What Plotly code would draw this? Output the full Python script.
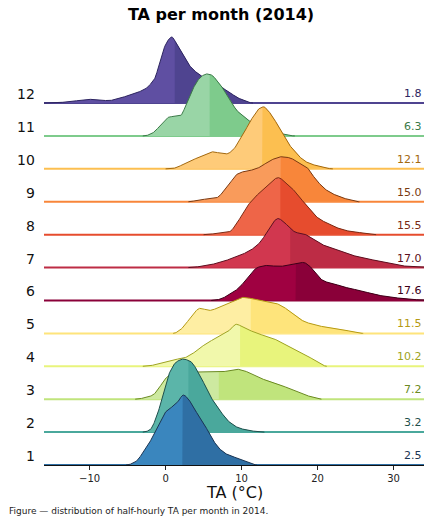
import numpy as np
import plotly.graph_objects as go

# ---- data (density in arbitrary units) ----
months = [1, 2, 3, 4, 5, 6, 7, 8, 9, 10, 11, 12]
month_labels = ["1", "2", "3", "4", "5", "6", "7", "8", "9", "10", "11", "12"]
median_labels = ["2.5", "3.2", "7.2", "10.2", "11.5", "17.6", "17.0", "15.5", "15.0", "12.1", "6.3", "1.8"]
split_x = [2.2, 3.0, 7.0, 9.8, 11.2, 17.1, 16.4, 15.1, 15.1, 12.7, 5.8, 1.2]

m1_x = [-5.2, -4, -3, -2, -1, 0, 1, 1.7, 2.3, 3, 3.6, 4.3, 5, 6, 7, 8, 9, 10, 11, 12]
m1_d = [0, 3, 12, 24, 40, 53, 59, 64, 70, 66, 58, 50, 42, 28, 17, 11, 8, 5, 2, 0]
m2_x = [-3, -2.1, -1.2, -0.3, 0.5, 1.4, 2.3, 3.2, 4.5, 5.8, 7.1, 8.4, 9.7, 11.5, 13]
m2_d = [0, 2, 15, 39, 59, 70, 73, 71, 57, 37, 22, 10, 4, 1, 0]
m3_x = [-4, -3.4, -1.7, -0.8, -0.1, 1, 2.5, 4, 5.8, 7.1, 8, 9.3, 10.5, 11.5, 12.8, 14.1, 15.5, 16.8, 18, 19.4, 20.5]
m3_d = [0, 0.5, 4, 12, 20, 26, 27, 27, 27, 27, 28, 30, 28, 24, 20, 17, 13, 9, 5, 2, 0]
m4_x = [-3, -2.1, -0.4, 1.4, 2.3, 3.6, 5.4, 7.1, 8.4, 9.3, 10.2, 12, 14.1, 16.3, 18.5, 20.3, 21.2]
m4_d = [0, 0.5, 4, 7, 8, 13, 23, 30, 36, 42, 39, 33, 28, 19, 11, 3, 0]
m5_x = [1, 2, 2.7, 3.6, 4.5, 5.8, 7, 8.4, 9.3, 10.2, 11.2, 12, 13, 14.1, 15.4, 16.3, 17.2, 18.2, 19.4, 20.5, 21.6, 22.6, 23.8, 25, 26]
m5_d = [0, 4, 10, 19, 25, 23, 26, 31, 34, 36, 35, 34, 32, 31, 27, 22, 17, 12, 9, 7, 6, 5, 3, 1, 0]
m6_x = [6, 7, 8.4, 9.7, 11, 12.1, 13.3, 15, 16.3, 17.2, 18.1, 19, 19.8, 20.7, 21.8, 22.9, 24.2, 25.6, 27, 28.2, 30, 32.5, 34]
m6_d = [0, 1, 6, 13, 25, 33, 35, 34, 36, 37, 38, 34, 26, 20, 17, 15, 12, 10, 7, 5, 3, 1, 0.5]
m7_x = [3, 4.5, 6, 7.5, 9, 10.6, 11.5, 12.4, 13.3, 14, 14.8, 15.5, 16.3, 17.2, 18.1, 19.4, 20.3, 22, 23.8, 24.7, 26.4, 27.7, 29, 30.8, 32.5, 34]
m7_d = [0, 1, 3, 6, 10, 15, 19, 25, 35, 44, 49, 46, 40, 35, 34, 28, 24, 19, 14, 12, 9, 7, 5, 2, 1, 0.5]
m8_x = [5, 6.5, 8.4, 9.5, 10.6, 11.7, 12.8, 13.8, 14.8, 15.8, 16.8, 17.9, 19, 20, 21.1, 22.2, 23.3, 24.5, 25.6, 27.7]
m8_d = [0, 1, 3, 13, 27, 37, 45, 52, 57, 52, 45, 35, 25, 17, 12, 8, 5, 3, 2, 0]
m9_x = [3, 4.5, 6.7, 7.8, 8.6, 9.3, 10.2, 11.5, 12.5, 13.3, 14.3, 15.2, 16.3, 17.3, 18.5, 19.8, 21.1, 22.9, 24.2, 25.5]
m9_d = [0, 2, 4, 12, 20, 27, 30, 32, 35, 39, 43, 45, 44, 40, 35, 22, 12, 5, 2, 0]
m10_x = [0, 1, 2.7, 4.5, 5.5, 6.2, 7, 8, 9, 9.7, 10.4, 11, 11.6, 12.1, 12.9, 13.5, 14.1, 14.8, 15.4, 16, 16.7, 17.5, 18.5, 19.5, 20.5, 22]
m10_d = [0, 0.5, 6, 12, 15, 17, 16, 15, 20, 29, 37, 46, 53, 59, 62, 58, 52, 43, 35, 27, 20, 13, 7, 4, 2, 0]
m11_x = [-3, -2.5, -1.7, -0.4, 0.5, 1.9, 2.9, 4.1, 4.8, 5.4, 6, 6.7, 8, 8.8, 9.3, 10.2, 10.6, 11.9, 13, 14.5, 16, 17]
m11_d = [0, 0.5, 3, 13, 19, 20, 35, 54, 60, 62, 61, 56, 42, 32, 26, 20, 17, 12, 8, 4, 1, 0]
m12_x = [-16, -12.6, -11.5, -10, -8.5, -7.6, -6, -5.1, -3.9, -2.5, -2.1, -1.4, -0.8, 0.1, 0.8, 1.4, 2.1, 2.7, 3.2, 4, 4.9, 5.8, 6.7, 7.5, 8.4, 9.3, 10.2, 11.5]
m12_d = [0, 1.3, 2.5, 3.7, 3, 2.4, 5, 7, 10, 15, 18, 25, 40, 60, 66, 60, 50, 43, 37, 31, 26, 23, 20, 15, 11, 6, 3, 0]

series_x = [m1_x, m2_x, m3_x, m4_x, m5_x, m6_x, m7_x, m8_x, m9_x, m10_x, m11_x, m12_x]
series_d = [m1_d, m2_d, m3_d, m4_d, m5_d, m6_d, m7_d, m8_d, m9_d, m10_d, m11_d, m12_d]

# ---- styling ----
light = ['#3a86be', '#5bb5a9', '#cde9a0', '#f1f8ab', '#feeea3', '#9f0141',
         '#d1374f', '#ee6548', '#f99b5b', '#fecb79', '#99d5a6', '#5f4fa2']
dark = ['#2f6fa4', '#4aa89c', '#c0e47c', '#e8f47c', '#fee47b', '#8a0039',
        '#bd2c45', '#e64c2e', '#f8863a', '#fcbf50', '#7ecb8c', '#4f4490']
edge = ['#1c3553', '#1f4f4c', '#6b8a22', '#9ea323', '#b59a14', '#3d0018',
        '#5c1020', '#7a2a14', '#7a3a12', '#a3680e', '#3b7a48', '#2d2560']
SCALE = 1 / 32.9   # density units -> ridge spacing
XMIN, XMAX = -16, 34
FONT = "DejaVu Sans"


def pchip(x, y, xs):
    x = np.asarray(x, float); y = np.asarray(y, float)
    h = np.diff(x); delta = np.diff(y) / h
    n = len(x); d = np.zeros(n)
    for k in range(1, n - 1):
        if delta[k - 1] * delta[k] > 0:
            w1 = 2 * h[k] + h[k - 1]; w2 = h[k] + 2 * h[k - 1]
            d[k] = (w1 + w2) / (w1 / delta[k - 1] + w2 / delta[k])
    idx = np.clip(np.searchsorted(x, xs) - 1, 0, n - 2)
    t = (xs - x[idx]) / h[idx]
    h00 = 2 * t**3 - 3 * t**2 + 1; h10 = t**3 - 2 * t**2 + t
    h01 = -2 * t**3 + 3 * t**2; h11 = t**3 - t**2
    return h00 * y[idx] + h10 * h[idx] * d[idx] + h01 * y[idx + 1] + h11 * h[idx] * d[idx + 1]


fig = go.Figure()
for i in reversed(range(len(months))):
    base = months[i] - 1
    xs = np.arange(series_x[i][0], series_x[i][-1] + 1e-9, 0.05)
    ys = np.maximum(pchip(series_x[i], series_d[i], xs), 0) * SCALE + base
    # baseline
    fig.add_trace(go.Scatter(x=[XMIN, XMAX], y=[base, base], mode="lines",
                             line=dict(color=dark[i], width=2), hoverinfo="skip", showlegend=False))
    # full (light) fill
    fig.add_trace(go.Scatter(x=np.r_[xs[0], xs, xs[-1]], y=np.r_[base, ys, base], mode="lines",
                             fill="toself", fillcolor=light[i], line=dict(width=0),
                             hoverinfo="skip", showlegend=False))
    # right of the split (darker)
    s = split_x[i]
    mask = xs >= s
    ys_s = np.interp(s, xs, ys)
    fig.add_trace(go.Scatter(x=np.r_[s, s, xs[mask], xs[-1]], y=np.r_[base, ys_s, ys[mask], base],
                             mode="lines", fill="toself", fillcolor=dark[i], line=dict(width=0),
                             hoverinfo="skip", showlegend=False))
    # outline
    fig.add_trace(go.Scatter(x=xs, y=ys, mode="lines", line=dict(color=edge[i], width=1),
                             hoverinfo="skip", showlegend=False))

annotations = []
for i in range(len(months)):
    base = months[i] - 1
    annotations.append(dict(x=0, xref="paper", y=base, yref="y", text=month_labels[i],
                            showarrow=False, xanchor="right", yanchor="bottom", xshift=-7, yshift=-1,
                            font=dict(family=FONT, size=14, color="#111111")))
    annotations.append(dict(x=1, xref="paper", y=base, yref="y", text=median_labels[i],
                            showarrow=False, xanchor="right", yanchor="bottom", xshift=0, yshift=1,
                            font=dict(family=FONT, size=11, color=edge[i])))

annotations.append(dict(x=0.5, xref="paper", y=-0.064, yref="paper", text="TA (°C)", showarrow=False,
                        xanchor="center", yanchor="middle", font=dict(family=FONT, size=16, color="#111111")))
annotations.append(dict(x=-0.097, xref="paper", y=-0.106, yref="paper",
                        text="Figure — distribution of half-hourly TA per month in 2014.",
                        showarrow=False, xanchor="left", yanchor="middle",
                        font=dict(family=FONT, size=9, color="#222222")))

fig.update_layout(
    width=431, height=523,
    margin=dict(l=44, r=7, t=30, b=58),
    paper_bgcolor="white", plot_bgcolor="white",
    title=dict(text="<b>TA per month (2014)</b>", x=221 / 431, xref="container", xanchor="center",
               y=1 - 14 / 523, yref="container", yanchor="middle",
               font=dict(family=FONT, size=16, color="#000000")),
    xaxis=dict(range=[XMIN, XMAX], tickvals=[-10, 0, 10, 20, 30], ticktext=["−10", "0", "10", "20", "30"],
               ticks="outside", ticklen=4, tickcolor="#222222", showgrid=False, zeroline=False,
               showline=True, linecolor="#111111", linewidth=1.2,
               tickfont=dict(family=FONT, size=10, color="#222222")),
    yaxis=dict(range=[0, 13.22], visible=False),
    annotations=annotations,
)
fig.write_html("out.html", config={"displayModeBar": False},
               post_script="document.body.style.margin='0';document.body.style.overflow='hidden';")
